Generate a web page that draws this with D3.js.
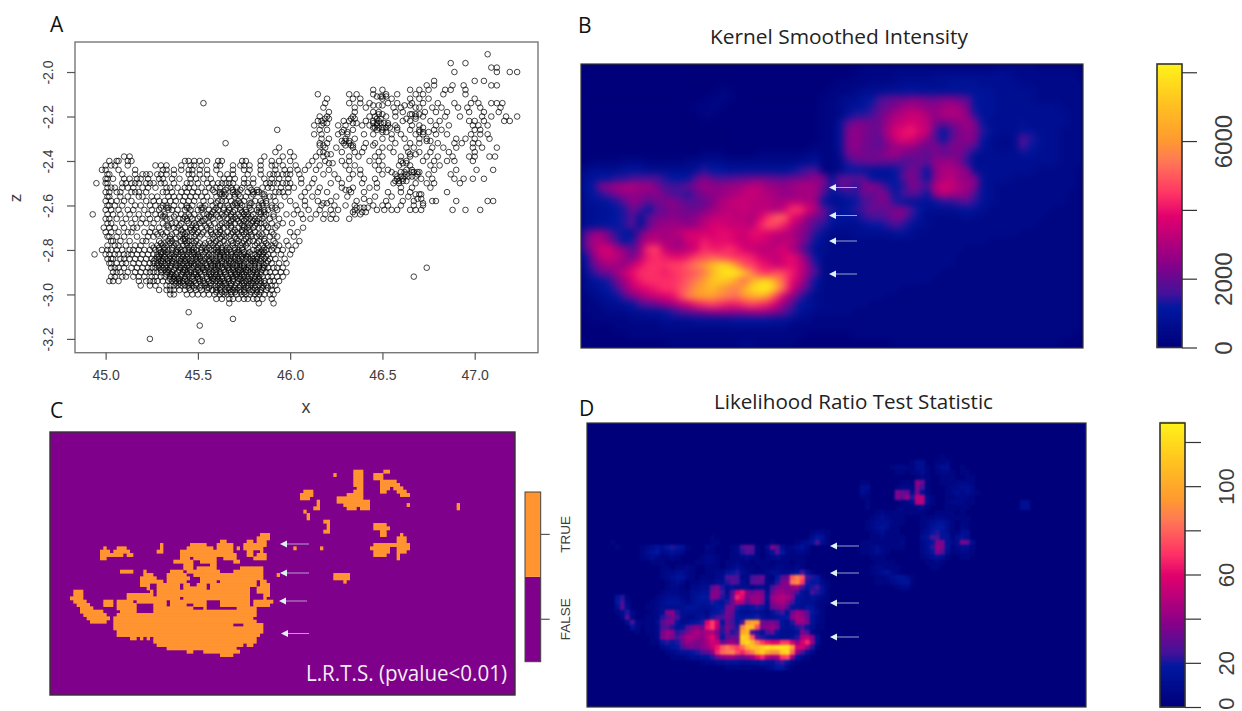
<!DOCTYPE html>
<html><head><meta charset="utf-8">
<style>html,body{margin:0;background:#fff;overflow:hidden}svg{display:block}</style>
<script src="https://cdn.jsdelivr.net/npm/d3@7"></script></head><body>
<svg id="c" width="1242" height="711" xmlns="http://www.w3.org/2000/svg"></svg>
<script>
// ---------- DATA ----------
const xTicks=[45,45.5,46,46.5,47];
const zTicks=[-2,-2.2,-2.4,-2.6,-2.8,-3,-3.2];
// each row: z, then x readings in hundredths above 45
const scatterRows=[
[-1.92,[207]],[-1.96,[187,195]],[-1.98,[209,212]],[-2.00,[189,212,219,223]],
[-2.04,[178,200,205]],[-2.06,[174,178,188,194,209,212]],[-2.08,[145,150,165,170,175,184,187,195]],
[-2.10,[115,132,136,145,152,158,168,172,183,195]],
[-2.12,[120,134,138,150,155,165,170,175,200]],
[-2.14,[53,119,132,138,143,153,158,166,172,180,189,198,202,209,212,215]],
[-2.16,[118,135,141,156,160,168,170,177,182,191,196,203,214]],
[-2.18,[121,135,145,148,157,161,173,179,185,197,205,213]],
[-2.20,[116,120,134,143,146,152,157,168,172,184,192,204,209,217,223]],
[-2.22,[115,117,129,132,141,145,148,161,165,176,181,197,200,205,216,219]],
[-2.24,[113,117,126,130,139,143,147,153,157,166,170,179,186,199,202,207]],
[-2.26,[93,116,120,129,134,147,150,158,165,170,178,182,200,203]],
[-2.28,[113,117,126,131,140,145,155,160,168,172,179,185,198,203,207]],
[-2.30,[117,121,130,135,150,155,162,170,174,190,195,200,208]],
[-2.32,[65,116,120,129,132,141,146,157,165,170,180,189,193,199,202]],
[-2.34,[94,119,125,134,140,150,154,163,167,177,183,190,199,204,212]],
[-2.36,[92,100,116,118,128,135,139,148,156,164,170,176,186,200]],
[-2.38,[10,13,86,96,102,114,118,132,137,146,150,160,165,174,180,188,197,200,208,211]],
[-2.40,[2,6,7,12,14,43,45,48,51,55,61,63,74,76,84,90,94,100,112,119,128,132,143,148,160,163,172,178,185,189,199]],
[-2.42,[0,3,5,12,27,30,33,41,46,48,52,60,62,69,73,75,78,84,90,92,96,103,110,116,130,135,146,150,159,165,176,181]],
[-2.44,[-2,0,7,16,31,33,37,41,45,47,51,55,60,69,75,78,84,92,97,100,104,108,114,121,132,138,148,153,163,166,178,190,201,210]],
[-2.46,[1,2,9,16,20,22,24,28,30,33,37,45,47,51,55,62,66,69,77,84,89,91,93,96,98,100,105,118,124,134,138,150,157,163,169,175,187]],
[-2.48,[0,1,4,10,13,17,19,23,29,31,36,40,46,49,53,57,64,67,70,75,80,86,90,94,99,106,113,126,132,140,146,158,161,171,177,189,194,199,205]],
[-2.50,[-5,0,1,9,11,14,16,18,22,24,26,30,32,37,44,46,50,55,58,61,63,65,67,69,75,77,80,87,89,91,93,96,98,100,106,112,122,128,139,147,156,159,168,174,178,192]],
[-2.52,[1,3,5,9,12,15,20,23,27,33,35,39,43,45,48,52,56,60,62,66,68,71,74,78,85,88,90,95,99,102,110,116,128,134,143,147,160,166,176]],
[-2.54,[0,2,6,8,14,16,18,22,31,33,36,41,44,47,50,54,59,62,64,69,71,77,80,82,83,92,94,96,99,108,115,120,133,140,153,160,165,185]],
[-2.56,[1,2,8,12,18,20,25,28,34,37,40,43,46,49,52,55,60,64,67,70,73,76,79,86,89,91,97,106,112,125,131,146,155,164]],
[-2.58,[0,3,6,10,14,22,26,29,32,35,38,42,45,48,53,57,61,63,65,68,72,75,81,84,87,92,100,108,115,122,136,143,152,161,167,177,179,190,207,210]],
[-2.60,[1,2,5,9,16,19,24,27,31,33,37,41,44,47,51,54,58,62,66,69,71,74,78,83,85,90,95,103,108,117,124,130,135,145,150,153,160,167,172]],
[-2.62,[0,3,7,12,15,21,25,29,34,36,39,43,46,50,52,56,59,61,64,67,70,73,76,79,82,86,88,93,104,110,116,122,126,135,147,151,155,158,165,168,171,188,195,203]],
[-2.64,[-7,1,4,8,13,18,23,27,30,32,38,41,45,48,53,55,57,60,63,65,68,72,75,77,80,84,87,91,98,102,106,114,119,123,135,138]],
[-2.66,[0,2,6,11,16,20,24,28,33,35,40,42,44,47,50,54,58,62,66,69,71,74,76,78,81,83,85,89,94,107,111,118,122,125,132]],
[-2.68,[1,3,9,14,19,22,26,31,36,38,41,45,48,51,56,59,63,65,67,70,73,77,79,82,84,86,90,96,101]],
[-2.70,[-1,2,5,10,15,17,25,29,34,37,39,43,46,49,52,55,61,64,68,72,75,77,80,83,85,88,92,107]],
[-2.72,[0,3,7,12,14,21,24,27,30,33,38,42,44,47,50,53,57,60,62,66,69,71,74,76,78,81,87,90,100,104]],
[-2.74,[1,2,6,10,17,23,26,32,35,40,44,46,48,51,59,63,65,67,70,73,77,79,82,84,89,93,102]],
[-2.76,[3,4,8,13,20,22,29,34,36,41,43,45,47,49,56,60,64,68,72,75,78,80,83,86,91,98,105]],
[-2.78,[1,5,7,11,16,19,25,28,31,33,37,39,42,44,46,50,53,58,61,65,69,73,76,81,85,88,90,94,99,103]],
[-2.80,[-2,1,3,6,9,13,15,18,21,24,27,29,32,34,36,39,41,43,45,47,49,52,55,57,59,61,63,65,67,70,72,74,80,82,85,87,90,93,96,101]],
[-2.82,[-6,0,2,5,7,10,12,14,17,20,23,26,28,30,32,34,36,38,40,42,44,46,48,50,53,56,58,60,62,64,66,68,71,73,75,77,79,81,83,85,88,91,95,100]],
[-2.84,[1,3,4,8,10,13,16,19,22,25,27,29,31,33,35,37,39,41,43,45,47,49,51,54,56,58,60,62,64,66,68,70,72,74,76,78,80,82,84,86,89,92,97]],
[-2.86,[2,3,6,9,11,15,18,21,24,26,28,30,32,34,36,38,40,42,44,46,48,50,52,54,57,59,61,63,65,67,69,71,73,75,77,79,81,83,85,87,90,94,98]],
[-2.88,[3,5,7,10,14,17,20,23,25,27,29,31,33,35,38,40,41,43,45,47,50,52,53,55,57,59,61,63,66,67,69,71,73,75,77,79,81,83,85,86,88,91,93,96,174]],
[-2.90,[4,6,8,12,16,19,22,24,26,28,30,33,34,36,39,42,44,46,48,49,51,54,56,58,60,62,64,65,68,70,72,74,76,78,80,82,84,87,89,92,95,98]],
[-2.92,[3,5,9,11,15,18,21,25,27,30,32,35,37,39,41,43,45,47,50,52,55,57,59,61,63,66,69,71,73,75,77,79,81,83,85,88,90,93,96,167]],
[-2.94,[2,4,7,18,22,24,26,28,31,34,36,38,40,42,44,46,48,51,53,56,58,60,62,64,67,69,72,74,76,78,80,82,84,86,89,91,94]],
[-2.96,[19,24,27,33,35,37,39,41,43,45,47,49,52,54,57,59,61,63,65,68,70,73,75,77,79,81,83,85,87,90,92]],
[-2.98,[29,33,35,37,40,43,46,49,52,55,58,60,62,65,67,69,71,73,75,78,80,82,84,87,90,93]],
[-3.00,[35,37,44,47,50,53,56,59,62,64,66,68,71,74,76,78,81,83,86,89,91]],
[-3.02,[60,63,67,69,72,75,77,80,82,85,90]],
[-3.04,[67,83,91]],[-3.08,[45]],[-3.11,[69]],[-3.14,[51]],[-3.20,[24]],[-3.21,[52]]
];
// tight clusters seen between the main rows
const scatterClusters=[
[-2.11,[147,149,150,152]],[-2.15,[145,148,150,162,165]],[-2.19,[148,150,165,166,168,170]],
[-2.21,[119,121,133,135,147,149,163,168]],[-2.23,[118,120,134,136,145,147,149,151,153]],
[-2.25,[145,146,148,150,152,154,158,172]],[-2.27,[128,131,150,152,170,172,175]],[-2.31,[128,130,132,174,176]],
[-2.33,[116,118,130,133,134,145]],[-2.37,[120,122,165,168]],[-2.41,[121,123,161,163]],
[-2.45,[155,160,162,166,167,169,170]],[-2.47,[158,160,162,164,166,168]],[-2.49,[157,159,161,163]],[-2.53,[58,65,69,73,79,82,130,132]],
[-2.55,[62,63,65,70,72,80,85,86,168,170,171]],[-2.57,[140,169,171]],[-2.59,[60,70,71,73,78,79,85,87,118,120,172]],
[-2.61,[30,33,34,44,45,52,53,60,64,67,73,78,83,90,92,136,138,140,142]],[-2.63,[58,66,69,74,76,83,84,86,134,139,141]],
[-2.65,[31,32,37,43,46,51,56,57,61,64,68,70,73,77,79,86,91]],[-2.67,[44,52,53,68,72,75,80,82]],
[-2.69,[33,34,40,47,49,54,57,62,66,68,74,75,78,81,87,93]],[-2.71,[41,46,48,57,62,70,74,78]],
[-2.73,[28,31,36,41,43,49,52,55,58,61,64,68,72,75,79,83,85,91]],[-2.75,[35,38,42,43,58,62,71,76,86]],
[-2.77,[30,32,35,38,44,48,51,54,57,59,62,66,69,71,74,77,82,87,92]],
[-2.79,[26,29,32,36,40,45,48,52,54,56,60,63,66,70,74,77,83,86,91]],
[-2.81,[30,31,33,38,39,41,45,47,48,52,54,60,61,63,66,68,71,72,75,78,83,84,86]],
[-2.83,[28,29,32,35,37,42,44,49,50,51,55,57,62,64,65,69,70,74,76,77,82,85,87]],
[-2.85,[26,30,31,34,36,40,41,43,46,47,52,53,56,59,60,63,67,68,72,73,79,80,81,84,88]],
[-2.87,[28,29,33,35,38,39,44,45,48,49,51,55,57,58,61,62,65,66,70,71,74,75,78,83,86]],
[-2.89,[30,32,34,37,40,42,43,46,50,53,54,59,60,64,67,69,72,73,76,77,80,81,85]],
[-2.91,[33,35,36,38,41,44,45,48,49,52,56,57,60,62,65,68,70,71,74,75,79,82,84]],
[-2.93,[35,37,39,40,43,47,50,51,55,58,59,61,63,66,67,69,72,73,77,78,81,83]],
[-2.95,[38,40,42,45,46,49,53,54,57,62,64,65,68,71,74,75,79,80,84,86]],
[-2.97,[45,48,51,55,56,60,62,66,67,70,72,76,77,81,85,88]],
[-2.99,[60,63,65,68,70,73,75,79,82,84]]
];
// Panel B: kernel intensity, one base-36 digit per grid cell, one unit = 230
const intensityUnit=230;
const intensityRows=[
"000000000000000000000000000000 000001111111111111111122222111111",
"000000000000000000000000000000 000011111222223333333333222222221",
"000000000000000000000000000000 001111222233333344443333322222222",
"000000000000000001100000000000 011123334445444444444433333222222",
"000000000000000011100000000000 1123345 7899aa9 9aa98 54433333222222",
"000000000000001111000000000000 1123456 89acdcb bcdca 54433333333222",
"000000000000000110000000000000 1124667 9bdeffd bdddb 64433333333322",
"000000000000000000000000000000 1148aa9 9cefgfe a9abc a5333343333322",
"000000000000000000000000000000 114aba9 9dghigf 857ab a6433344333222",
"000000000000000000000000000000 114aba9 8cfhgeb 858ab a5322386433222",
"000000000000000000000000000001 114ab99 8accca9 a8aa9 74322375433222",
"000000000000000111000011111122 1139aa9 abca998 a99a7 43333344333222",
"011112221111122333222222222334 1126889 8887898 bcca6 33333333333222",
"233334443333334655444444445677 1125554 4457a85 bddcb 43333333222221",
"345566777765558a877889998899ab a488885 4458a85 bdecb a4333222222221",
"45abcddcca7779acbbccdeeccbcddc 96896ab 9656a97 dgfdc a4322222222221",
"3568abbbab97769abbcdefedcbbccc 7456698 a957875 cedcb 74322222222211",
"344568ba89ab9889adeffeeeddeedc 5334578 a965444 56678 64322222222211",
"33445697589aa99acdeefeeedfjjgd 8645679 89aa753 33345 43222222221111",
"334456848aabaabdeffeedgjmmhfb9 8544467 78a9642 22223 22222222211111",
"344556848bcccbceggfffeilkifca7 6433345 5676433 22222 22222222111111",
"7bc96549cdcdegggghhgfhhgfedb96 4222333 3344322 22222 22222211111111",
"8ddb756beeddcggihhhgfggfdeeb85 3222222 2222222 22222 22111111111111",
"7cfgdb8cjkfddegjiijigfeefgda63 3222222 2222222 22221 11111111111111",
"5aefec9eijihhiklmlkjjigfeghe95 2222222 2222222 22211 11111111111111",
"48bdcbfhjjjkkmoquxwqlkihfghfb6 2222222 2222222 22211 11111111111111",
"3699cfhjjjijklmotxzzvokjlkifb7 2222222 2222222 21111 11111111111111",
"24569cgijjjjkmorvwvrnswxrmhe95 2222222 2222222 11111 11111111111111",
"23457beghijjlnqsurposxzzumgb74 2222222 2221111 11111 11111111111111",
"123457acefghkoqrrponqstqkfb742 2222222 2111111 11111 11111111111111",
"1123345789bcegijkjiijkjifb8543 2222221 1111111 11111 11111111111111",
"111222334456789abbbbbccba86432 2222111 1111111 11111 11111111111111",
"011111222233334444455555443221 1111111 1111111 11111 11111111111111",
"000011111122222222222222221111 1111111 1111111 11111 11111111111111",
"000000111111111111111111111100 0000111 1111111 11111 11111111111110",
"000000000001111111112211111000 0000000 0011111 11111 11111111111000"
];
// Panel C: significant grid cells as row, then inclusive start/end column pairs
const trueRuns=[
[3,[94,96,103,104]],[4,[88,88,94,96,100,102]],[5,[94,96,100,102]],[6,[94,96,102,106]],[7,[94,96,102,107]],
[8,[95,96,102,104,106,108]],[9,[79,81,94,96,102,103,107,109]],[10,[78,81,92,96,108,110]],[11,[78,80,89,96]],
[12,[83,83,89,98]],[13,[83,83,91,98,110,110,125,125]],[14,[82,83,92,94,96,98,125,125]],[15,[79,79]],[16,[80,80]],[17,[80,80]],
[18,[85,86]],[19,[86,86,100,103]],[20,[86,86,100,104]],[21,[85,86,102,103]],[22,[66,68,102,103,108,108]],
[23,[65,68,107,109]],[24,[54,55,62,63,65,67,107,109]],[25,[36,36,45,49,53,57,61,67,100,110]],
[26,[19,19,23,25,36,36,44,51,53,57,59,59,61,66,76,76,84,84,99,104,107,110]],
[27,[18,20,22,26,35,36,42,57,62,63,66,66,100,104,107,109]],
[28,[18,24,26,27,42,58,62,63,65,67,100,103,107,107]],[29,[18,19,42,44,46,52,55,58,64,67,107,107]],
[30,[40,45,48,52,58,59]],[31,[43,45,51,52]],[32,[43,45,47,52,60,66]],[33,[24,27,31,31,39,42,44,53,58,66]],
[34,[31,33,38,43,46,66,71,71,88,92]],[35,[30,34,38,44,48,66,88,92]],[36,[30,36,38,43,48,52,54,64,66,67,91,91]],
[37,[30,32,35,41,43,44,47,49,51,64,66,68]],[38,[32,32,35,41,43,49,51,62,65,68]],
[39,[10,12,33,33,35,62,65,68]],[40,[10,12,26,33,35,62,67,68]],[41,[9,12,26,41,43,62,67,67]],
[42,[10,13,19,21,23,27,29,37,39,49,54,62,64,69]],[43,[11,14,19,21,23,28,34,37,39,43,46,49,54,62,64,68]],
[44,[12,15,23,28,34,45,49,49,59,64]],[45,[12,18,24,28,34,64]],[46,[13,19,23,64]],[47,[14,20,22,63]],[48,[15,19,22,64]],
[49,[22,57,61,66]],[50,[22,66]],[51,[23,66]],[52,[23,65]],[53,[27,28,30,30,32,32,34,64]],[54,[34,64]],
[55,[35,60,62,63]],[56,[38,58]],[57,[44,45,49,59]],[58,[54,57]]
];
const flagLabels=["FALSE","TRUE"];
// Panel D: test statistic, one base-36 digit per cell, one unit = 3.5
const statUnit=3.5;
const statRows=[
"0000000000 0000000000 0000000000 0000000000 0000000000 0000",
"0000000000 0000000000 0000000000 0000000000 0000000000 0000",
"0000000000 0000000000 0000000000 0000000000 0000122100 0000",
"0000000000 0000000000 0000100000 0000000000 0000354100 0000",
"0000100000 0000000000 0000110000 0000001000 0123473100 0000",
"0000010000 1234356541 0002100012 798103a831 2342000000 0000",
"0000000000 1345234320 0001100012 6871024852 1221000000 0000",
"0000000000 1232112100 0012210011 2321012321 1110000000 0000",
"0000000000 0011100000 0112210112 1101110111 0110000000 0000",
"0000000000 0000110112 1001110123 2110111221 1210000000 0000",
"0000000000 0000122332 1001122456 3211123322 3474100000 0000",
"0000000000 0000123442 1011123787 2278921589 mpm7651000 0000",
"0000000000 0000012320 1122233687 3289822 6ab oqk6552100 0000",
"0000000000 0000012210 2233 8a63 43 33233 27ab a cd75674100 0000",
"0000000000 0000122211 3344ab7 38g ib9ba39ccb a743764100 0000",
"0000046100 0001233321 3455ba649j hacc b4cded b543432100 0000",
"0000057200 0012344432 344465469e d8bca3bcdb 7433321100 0000",
"0000038300 0112333334 44334559a6 5456539ab8 4435421000 0000",
"0000013620 00123ab633 3332456a95 3344324674 9cb8531000 0000",
"0000002820 011268a732 2343677a85 4556433455 bdc9421000 0000",
"0000000372 11138aa523 456hkf5975 7qsra9a843 6cca421000 0000",
"0000000042 0112786447 ab9ike6a86 pvula bca43 4675311000 0000",
"0000000001 01129cb67a cdcdea6967 su86479533 34a8210000 0000",
"0000000000 0012aca7ad dcbehc5899 xwm8654433 46deb30000 0000",
"0000000000 0011565 69c babdgf9bca wyuokihhkk gbgjc30000 0000",
"0000000000 0000234579 a9bcfimomk ntwvxzyzzz rggc610000 0000",
"0000000000 0000012344 5678bjnopl jmouxsqqxy nc74200000 0000",
"0000000000 0000001112 3344 69bcca 9bchjecdkl c521000000 0000",
"0000000000 0000000000 0012233444 3344544675 2100000000 0000",
"0000000000 0000000000 0000000111 1111123552 0000000000 0000"
];
// northern part of panel D, grid starts 54 columns right and 14 rows above the main block
const statNorthRows=[
"0000000000 0000000000 0000000000 0000000",
"0000000000 0000001000 0000000000 0000000",
"0000000000 1330011200 0000000000 0000000",
"0000001221 1331023300 1000000000 0000000",
"0000000110 1231012210 1100000000 0000000",
"0000000000 0121001110 0110000000 0000000",
"1100000011 1b91001112 2210000000 0000000",
"3300000122 1a71000122 3320000000 0000000",
"3200000a99 3a41000123 2321000000 0000000",
"1100000a9c 6ee3100112 2210000000 0000000",
"0100000012 3ee3100122 2110000000 0033000",
"0100000111 1231000111 1100000000 0033000",
"0001211111 1110011110 1000000000 0000000",
"0012321110 0011122111 1100000000 0000000",
"0123332110 0012344310 1100000000 0000000",
"0123431100 0012455310 2100000000 0000000",
"0012311100 0023564311 3300000000 0000000",
"0011211110 0034774413 4300000000 0000000",
"1111111120 0023 5aa423 a930000000 0000000",
"1123211110 0023 6ba412 3310000000 0000000",
"1123210000 0023 5a8311 2210000000 0000000",
"0011100000 0012 343100 1100000000 0000000",
"0001111000 0001 121000 0000000000 0000000",
"0012211100 0000 110000 0000000000 0000000",
"0012342100 0000000000 0000000000 0000000",
"0001123443 1000000000 0000000000 0000000",
"0001112344 1000000000 0000000000 0000000",
"0000000122 0000000000 0000000000 0000000"
];
const intensityTicks=[0,2000,4000,6000,8000], intensityLabels=[0,2000,6000];
const statTicks=[0,20,40,60,80,100,120], statLabels=[0,20,60,100];
const rampStops=[0,.14,.19,.30,.46,.54,.66,.73,.87,1];
const rampColors=["#00007a","#0018a0","#44129a","#8c0088","#e0006e","#ff3366","#ff7a55","#ff9a30","#ffc520","#fff21a"];
const titles=["Kernel Smoothed Intensity","Likelihood Ratio Test Statistic"];
const caption="L.R.T.S. (pvalue<0.01)";

// ---------- DRAW ----------
const svg=d3.select("#c");
const defs=svg.append("defs");
const blur=(id,s)=>defs.append("filter").attr("id",id).attr("x","-5%").attr("y","-5%").attr("width","110%").attr("height","110%")
  .attr("color-interpolation-filters","sRGB").append("feGaussianBlur").attr("stdDeviation",s);
blur("b4",3.6);blur("b1",1);blur("b0",.3);
const clip=(id,x,y,w,h)=>defs.append("clipPath").attr("id",id).append("rect").attr("x",x).attr("y",y).attr("width",w).attr("height",h);
const ink="#3d3d3d";
const axFont="'Liberation Sans',Arial,sans-serif", headFont="'Open Sans','Noto Sans',sans-serif";
const ramp=max=>d3.scaleLinear().domain(rampStops.map(s=>s*max)).range(rampColors).clamp(true);
const parse=r=>Array.from(r.replace(/ /g,"")).map(c=>parseInt(c,36));
function styleAxis(g,size,col){g.select(".domain").remove();g.selectAll("line").attr("stroke",col||"#555").attr("stroke-width",1.2);
  g.selectAll("text").attr("font-family",axFont).attr("font-size",size).attr("fill",ink);}

// A
const xA=d3.scaleLinear().domain([44.834,47.343]).range([75,538]);
const zA=d3.scaleLinear().domain([-1.865,-3.262]).range([42,352.7]);
const pts=scatterRows.concat(scatterClusters).flatMap(([z,xs])=>xs.map(n=>({x:45+n/100,z})));
const gA=svg.append("g");
gA.append("g").attr("filter","url(#b0)").selectAll("circle").data(pts).join("circle")
  .attr("cx",d=>xA(d.x)).attr("cy",d=>zA(d.z)).attr("r",2.8).attr("fill","none").attr("stroke","#000").attr("stroke-width",.9).attr("stroke-opacity",.82);
gA.append("rect").attr("x",75).attr("y",42).attr("width",463).attr("height",310.7).attr("fill","none").attr("stroke","#777").attr("stroke-width",1.4);
const axB=gA.append("g").attr("transform","translate(0,352.7)").call(d3.axisBottom(xA).tickValues(xTicks).tickFormat(d3.format(".1f")).tickSize(7).tickPadding(10));
styleAxis(axB,14);
const axL=gA.append("g").attr("transform","translate(75,0)").call(d3.axisLeft(zA).tickValues(zTicks).tickFormat(d=>d3.format(".1f")(d).replace("−","-")).tickSize(8));
styleAxis(axL,14);
axL.selectAll("text").attr("text-anchor","middle").attr("dy",0).attr("x",0).attr("y",0)
  .attr("transform","translate(-26,0) rotate(-90)").attr("dominant-baseline","middle");
gA.append("text").text("x").attr("x",306).attr("y",413).attr("text-anchor","middle").attr("font-family",axFont).attr("font-size",18).attr("fill",ink);
gA.append("text").text("z").attr("transform","translate(21,198) rotate(-90)").attr("text-anchor","middle").attr("font-family",axFont).attr("font-size",17).attr("fill",ink);

// Panel letters & titles
[["A",50,32],["B",578,33],["C",50,418],["D",579,416]].forEach(([t,x,y])=>svg.append("text").text(t).attr("x",x).attr("y",y).attr("font-family",headFont).attr("font-size",21).attr("fill","#111"));
svg.append("text").text(titles[0]).attr("x",710).attr("y",44).attr("textLength",258).attr("lengthAdjust","spacingAndGlyphs").attr("font-family",headFont).attr("font-size",20).attr("fill","#222");
svg.append("text").text(titles[1]).attr("x",714).attr("y",409).attr("textLength",279).attr("lengthAdjust","spacingAndGlyphs").attr("font-family",headFont).attr("font-size",20).attr("fill","#222");

function colorbar(x0,x1,y0,y1,max,ticks,labels,tickEnd,fontSize,labelX,zeroShift){
  const y=d3.scaleLinear().domain([0,max]).range([y1,y0]);
  const col=ramp(max);
  const g=svg.append("g");
  g.selectAll("rect").data(d3.range(0,max,max/240)).join("rect").attr("x",x0).attr("width",x1-x0)
    .attr("y",d=>y(d+max/240)-.5).attr("height",(y1-y0)/240+1).attr("fill",d=>col(d));
  g.append("rect").attr("x",x0).attr("y",y0).attr("width",x1-x0).attr("height",y1-y0).attr("fill","none").attr("stroke","#333").attr("stroke-width",1.6);
  const a=g.append("g").attr("transform",`translate(${x1},0)`).call(d3.axisRight(y).tickValues(ticks).tickSize(tickEnd-x1).tickFormat(d=>labels.includes(d)?d:""));
  styleAxis(a,fontSize,"#333");
  a.selectAll("text").attr("text-anchor","middle").attr("dy",0).attr("x",0).attr("y",0).attr("dominant-baseline","middle")
    .attr("transform",d=>`translate(${labelX-x1},${d===0?-zeroShift:0}) rotate(-90)`);
}
function arrows(ys,tip,end){const g=svg.append("g");
  ys.forEach(y=>{g.append("line").attr("x1",tip+5).attr("x2",end).attr("y1",y).attr("y2",y).attr("stroke","#c9d6e6").attr("stroke-width",1).attr("stroke-opacity",.75);
    g.append("path").attr("d",d3.line()([[tip,y],[tip+7,y-3.5],[tip+7,y+3.5]])+"Z").attr("fill","#dff2f2");});}

// B
const bx=d3.scaleBand().domain(d3.range(63)).range([581,1083]);
const by=d3.scaleBand().domain(d3.range(intensityRows.length)).range([64,348]);
const colB=ramp(8240);
clip("cb",581,64,502,284);
const gB=svg.append("g").attr("clip-path","url(#cb)");
gB.append("rect").attr("x",581).attr("y",64).attr("width",502).attr("height",284).attr("fill",rampColors[0]);
const cellsB=intensityRows.flatMap((r,j)=>parse(r).slice(0,63).map((v,i)=>({i,j,v:v*intensityUnit})));
gB.append("g").attr("filter","url(#b4)").selectAll("rect").data(cellsB).join("rect")
  .attr("x",d=>bx(d.i)-.3).attr("y",d=>by(d.j)-.3).attr("width",bx.bandwidth()+.6).attr("height",by.bandwidth()+.6).attr("fill",d=>colB(d.v));
svg.append("rect").attr("x",581).attr("y",64).attr("width",502).attr("height",284).attr("fill","none").attr("stroke","#333").attr("stroke-width",1.2);
colorbar(1157,1182,64,347.5,8240,intensityTicks,intensityLabels,1197,24,1226,0);
arrows([187.5,215.5,241,274],829,857);

// C
const cx=d3.scaleLinear().domain([3,142.5]).range([50,515]);
const cy=d3.scaleLinear().domain([-8.4,70.5]).range([432,695]);
const flagCol=d3.scaleOrdinal().domain(flagLabels).range(["#7f008a","#ff9430"]);
svg.append("rect").attr("x",50).attr("y",432).attr("width",465).attr("height",263).attr("fill",flagCol("FALSE")).attr("stroke","#333").attr("stroke-width",1.4);
const runs=trueRuns.flatMap(([r,p])=>d3.range(0,p.length,2).map(k=>({r,s:p[k],e:p[k+1]})));
svg.append("g").attr("filter","url(#b0)").selectAll("rect").data(runs).join("rect")
  .attr("x",d=>cx(d.s)).attr("width",d=>cx(d.e+1)-cx(d.s)).attr("y",d=>cy(d.r)-.3).attr("height",d=>cy(d.r+1)-cy(d.r)+.6).attr("fill",flagCol("TRUE"));
arrows([544,573],280,309);arrows([601],279,307);arrows([633.5],281,309);
svg.append("text").text(caption).attr("x",306).attr("y",681).attr("textLength",201).attr("lengthAdjust","spacingAndGlyphs").attr("font-family",headFont).attr("font-size",21).attr("fill","#f3eef5");
// C legend
const ly=d3.scaleBand().domain(flagLabels).range([661.7,492]);
svg.append("g").selectAll("rect").data(flagLabels).join("rect").attr("x",525).attr("width",15.7).attr("y",d=>ly(d)).attr("height",ly.bandwidth()).attr("fill",d=>flagCol(d));
svg.append("rect").attr("x",525).attr("y",492).attr("width",15.7).attr("height",169.7).attr("fill","none").attr("stroke","#444").attr("stroke-width",1);
const la=svg.append("g").attr("transform","translate(540.7,0)").call(d3.axisRight(ly).tickSize(9));
styleAxis(la,13.5);
la.selectAll("text").attr("text-anchor","middle").attr("dy",0).attr("x",0).attr("y",0).attr("dominant-baseline","middle").attr("transform","translate(26,0) rotate(-90)");

// D
const dx=d3.scaleLinear().domain([-.6,99.2]).range([587,1086]);
const dy=d3.scaleLinear().domain([-19.4,37.4]).range([423,707]);
const colD=ramp(128.6);
clip("cd",587,423,499,284);
const gD=svg.append("g").attr("clip-path","url(#cd)");
gD.append("rect").attr("x",587).attr("y",423).attr("width",499).attr("height",284).attr("fill",rampColors[0]);
const cellsD=statRows.flatMap((r,j)=>parse(r).map((v,i)=>({i,j,v:v*statUnit})))
  .concat(statNorthRows.flatMap((r,j)=>parse(r).map((v,i)=>({i:i+54,j:j-14,v:v*statUnit}))))
  .filter(d=>d.v>0);
gD.append("g").attr("filter","url(#b1)").selectAll("rect").data(cellsD).join("rect")
  .attr("x",d=>dx(d.i)-.2).attr("y",d=>dy(d.j)-.2).attr("width",dx(1)-dx(0)+.4).attr("height",dy(1)-dy(0)+.4).attr("fill",d=>colD(d.v));
svg.append("rect").attr("x",587).attr("y",423).attr("width",499).attr("height",284).attr("fill","none").attr("stroke","#333").attr("stroke-width",1.2);
colorbar(1160,1185,423,707,128.6,statTicks,statLabels,1201,22,1228,4);
arrows([546,573,603,637],830,859);
</script></body></html>
